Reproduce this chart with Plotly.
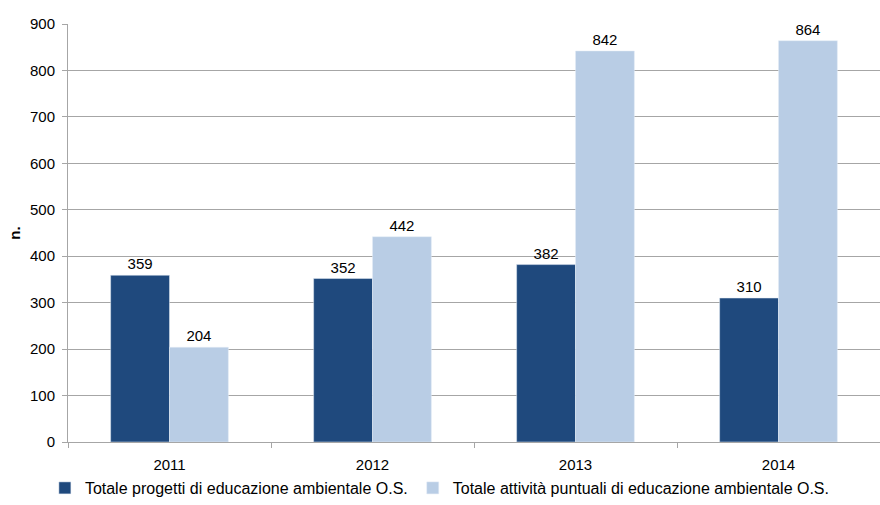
import plotly.graph_objects as go

years = ["2011", "2012", "2013", "2014"]
progetti = [359, 352, 382, 310]
attivita = [204, 442, 842, 864]
name_progetti = "Totale progetti di educazione ambientale O.S."
name_attivita = "Totale attività puntuali di educazione ambientale O.S."

font = dict(family="Liberation Sans, Arial, sans-serif", size=15, color="#000000")

fig = go.Figure()
fig.add_trace(go.Bar(x=years, y=progetti, name=name_progetti, marker_color="#1F497D",
                     text=progetti, textposition="outside", textfont=font, cliponaxis=False))
fig.add_trace(go.Bar(x=years, y=attivita, name=name_attivita, marker_color="#B9CDE5",
                     text=attivita, textposition="outside", textfont=font, cliponaxis=False))

fig.update_layout(
    width=880, height=505,
    margin=dict(l=68, r=0, t=24, b=63, autoexpand=False),
    paper_bgcolor="white", plot_bgcolor="white",
    font=font,
    barmode="group", bargap=0.42, bargroupgap=0,
    showlegend=True,
    legend=dict(orientation="h", x=0.051, xref="container", xanchor="left",
                y=-0.022, yref="container", yanchor="bottom",
                font=dict(size=16), itemwidth=30, tracegroupgap=0),
    uniformtext=dict(mode=False),
)
fig.update_xaxes(showline=True, linecolor="#A6A6A6", linewidth=1, ticks="outside",
                 tickson="boundaries", ticklen=5, tickcolor="#A6A6A6", showgrid=False,
                 tickfont=font, automargin=False, ticklabelstandoff=9)
fig.update_yaxes(range=[0, 900], dtick=100, showline=True, linecolor="#A6A6A6", linewidth=1,
                 ticks="outside", ticklen=5, tickcolor="#A6A6A6", showgrid=True,
                 gridcolor="#A6A6A6", gridwidth=1, zeroline=False, tickfont=font,
                 automargin=False, ticklabelstandoff=4,
                 title=dict(text="<b>n.</b>", font=dict(size=15), standoff=5))

fig.write_html("out.html")
